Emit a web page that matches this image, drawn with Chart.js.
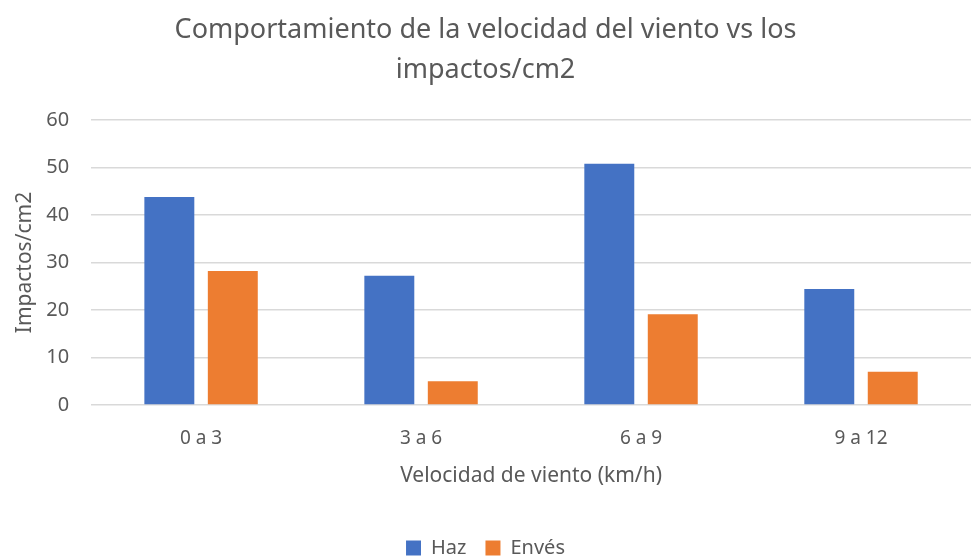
<!DOCTYPE html>
<html>
<head>
<meta charset="utf-8">
<script src="https://cdn.jsdelivr.net/npm/chart.js@4"></script>
<style>
  html, body { margin: 0; padding: 0; background: #fff; }
  #wrap { width: 971px; height: 557px; }
</style>
</head>
<body>
<div id="wrap"><canvas id="chart1"></canvas></div>
<script>
"use strict";

// DATA
const categories = ["0 a 3", "3 a 6", "6 a 9", "9 a 12"];
const haz = [43.8, 27.2, 50.8, 24.4];
const enves = [28.2, 5.0, 19.1, 7.0];
const yTicks = [0, 10, 20, 30, 40, 50, 60];

const textColor = "#595959";
const gridColor = "#d9d9d9";
const fontFamily = "'Noto Sans', 'Open Sans', sans-serif";

Chart.defaults.font.family = fontFamily;
Chart.defaults.color = textColor;

const ctx = document.getElementById("chart1").getContext("2d");

const myChart = new Chart(ctx, {
    type: "bar",
    data: {
        labels: categories,
        datasets: [
            { label: "Haz", data: haz, backgroundColor: "#4472C4" },
            { label: "Envés", data: enves, backgroundColor: "#ED7D31" }
        ]
    },
    options: {
        responsive: true,
        maintainAspectRatio: false,
        animation: false,
        categoryPercentage: 0.577,
        barPercentage: 0.787,
        layout: { padding: { left: 0, right: 0, top: 0, bottom: -11 } },
        plugins: {
            title: {
                display: true,
                text: ["Comportamiento de la velocidad del viento vs los", "impactos/cm2"],
                color: textColor,
                font: { size: 27, weight: "normal", lineHeight: 1.5 },
                padding: { top: 10, bottom: 29 }
            },
            legend: {
                position: "bottom",
                labels: {
                    boxWidth: 15,
                    boxHeight: 15,
                    padding: 19,
                    color: textColor,
                    font: { size: 20 }
                }
            },
            tooltip: { enabled: false }
        },
        scales: {
            x: {
                grid: { display: false, drawTicks: false },
                border: { display: false },
                ticks: { padding: 22, color: textColor, font: { size: 19 } },
                title: {
                    display: true,
                    text: "Velocidad de viento (km/h)",
                    color: textColor,
                    font: { size: 21 },
                    padding: { top: -8, bottom: 30 }
                }
            },
            y: {
                min: 0,
                max: 60,
                afterBuildTicks: axis => { axis.ticks = yTicks.map(v => ({ value: v })); },
                grid: { color: gridColor, lineWidth: 1.5, drawTicks: false },
                border: { display: false },
                ticks: { padding: 22, color: textColor, font: { size: 20 } },
                title: {
                    display: true,
                    text: "Impactos/cm2",
                    color: textColor,
                    font: { size: 21 },
                    padding: { top: 12, bottom: -13 }
                }
            }
        }
    }
});
</script>
</body>
</html>
